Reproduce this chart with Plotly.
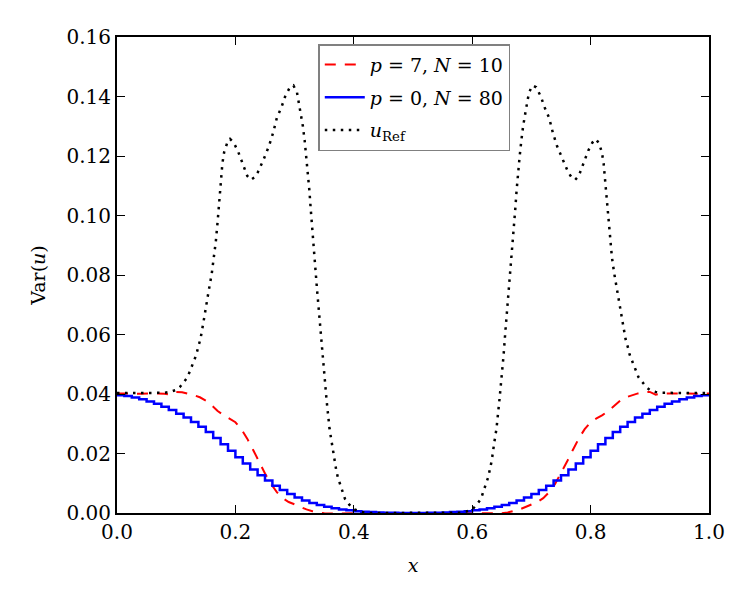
import numpy as np
import plotly.graph_objects as go

# ---- data ----
red_x = [0.00, 0.02, 0.04, 0.06, 0.08, 0.09, 0.10, 0.11, 0.12, 0.13, 0.14, 0.15, 0.16, 0.17, 0.18,
         0.19, 0.20, 0.21, 0.22, 0.23, 0.24, 0.25, 0.26, 0.27, 0.28, 0.29, 0.30, 0.31, 0.32, 0.33,
         0.34, 0.35, 0.36, 0.38, 0.40, 0.45, 0.50,
         0.55, 0.60, 0.62, 0.64, 0.65, 0.66, 0.67, 0.68, 0.69, 0.70, 0.71, 0.72, 0.73, 0.74, 0.75,
         0.76, 0.77, 0.78, 0.79, 0.80, 0.81, 0.82, 0.83, 0.84, 0.85, 0.86, 0.87, 0.88, 0.89, 0.90,
         0.91, 0.92, 0.94, 0.96, 0.98, 1.00]
red_y = [0.0402, 0.0401, 0.0401, 0.0402, 0.0401, 0.0398, 0.0407, 0.0406, 0.0402, 0.0396, 0.0389,
         0.0378, 0.0362, 0.0343, 0.0329, 0.0318, 0.0305, 0.0282, 0.0250, 0.0212, 0.0172, 0.0133,
         0.0098, 0.0070, 0.0050, 0.0037, 0.0029, 0.0020, 0.0012, 0.0006, 0.0002, -0.0001, -0.0002,
         -0.0001, 0.0000, 0.0000, 0.0000,
         0.0000, 0.0000, -0.0001, -0.0002, -0.0001, 0.0002, 0.0006, 0.0012, 0.0020, 0.0029, 0.0037,
         0.0050, 0.0070, 0.0098, 0.0133, 0.0172, 0.0212, 0.0250, 0.0282, 0.0305, 0.0318, 0.0329,
         0.0343, 0.0362, 0.0378, 0.0389, 0.0396, 0.0402, 0.0406, 0.0407, 0.0398, 0.0401, 0.0402,
         0.0401, 0.0401, 0.0402]

n_cells = 80
blue_vals = [0.0396, 0.0393, 0.0388, 0.0382, 0.0375, 0.0367, 0.0357, 0.0346, 0.0334, 0.0321,
             0.0306, 0.0290, 0.0272, 0.0252, 0.0231, 0.0209, 0.0187, 0.0166, 0.0146, 0.0127,
             0.0109, 0.0092, 0.0077, 0.0064, 0.0052, 0.0042, 0.0034, 0.0027, 0.0021, 0.0016,
             0.0012, 0.0009, 0.0006, 0.0004, 0.0003, 0.0002, 0.0001, 0.0001, 0.0000, 0.0000,
             0.0000, 0.0000, 0.0001, 0.0001, 0.0002, 0.0003, 0.0004, 0.0006, 0.0009, 0.0012,
             0.0016, 0.0021, 0.0027, 0.0034, 0.0042, 0.0052, 0.0064, 0.0077, 0.0092, 0.0109,
             0.0127, 0.0146, 0.0166, 0.0187, 0.0209, 0.0231, 0.0252, 0.0272, 0.0290, 0.0306,
             0.0321, 0.0334, 0.0346, 0.0357, 0.0367, 0.0375, 0.0382, 0.0388, 0.0393, 0.0396]

ref_x = [0.000, 0.050, 0.080, 0.090, 0.100, 0.106, 0.111, 0.119, 0.124, 0.129, 0.134, 0.137, 0.141,
         0.146, 0.151, 0.155, 0.160, 0.164, 0.167, 0.170, 0.173, 0.176, 0.178, 0.181, 0.186, 0.191,
         0.197, 0.204, 0.209, 0.214, 0.220, 0.226, 0.232, 0.238, 0.247, 0.257, 0.264, 0.270, 0.278,
         0.284, 0.292, 0.298, 0.304, 0.309, 0.314, 0.317, 0.320, 0.323, 0.325, 0.327, 0.329, 0.332,
         0.334, 0.336, 0.338, 0.341, 0.344, 0.347, 0.350, 0.354, 0.359, 0.363, 0.367, 0.370, 0.373,
         0.377, 0.381, 0.385, 0.392, 0.399, 0.410, 0.420, 0.430, 0.500,
         0.570, 0.580, 0.590, 0.601, 0.608, 0.615, 0.619, 0.623, 0.627, 0.630, 0.633, 0.637, 0.641,
         0.646, 0.650, 0.653, 0.656, 0.659, 0.662, 0.664, 0.666, 0.668, 0.671, 0.673, 0.675, 0.677,
         0.680, 0.683, 0.686, 0.691, 0.696, 0.702, 0.708, 0.716, 0.722, 0.730, 0.736, 0.743, 0.753,
         0.762, 0.768, 0.774, 0.780, 0.786, 0.791, 0.796, 0.803, 0.809, 0.814, 0.819, 0.822, 0.824,
         0.827, 0.830, 0.833, 0.836, 0.840, 0.845, 0.849, 0.854, 0.859, 0.863, 0.866, 0.871, 0.876,
         0.881, 0.889, 0.894, 0.900, 0.910, 0.920, 0.950, 1.000]
ref_y = [0.0403, 0.0403, 0.0404, 0.0407, 0.0414, 0.0423, 0.0436, 0.0456, 0.0481, 0.0507, 0.0532,
         0.0557, 0.0585, 0.0641, 0.0694, 0.0748, 0.0804, 0.0860, 0.0914, 0.0980, 0.1060, 0.1129,
         0.1175, 0.1213, 0.1243, 0.1257, 0.1245, 0.1218, 0.1194, 0.1165, 0.1133, 0.1120, 0.1128,
         0.1146, 0.1185, 0.1235, 0.1280, 0.1328, 0.1365, 0.1400, 0.1431, 0.1437, 0.1414, 0.1359,
         0.1300, 0.1252, 0.1196, 0.1140, 0.1084, 0.1028, 0.0972, 0.0916, 0.0860, 0.0804, 0.0748,
         0.0680, 0.0610, 0.0530, 0.0460, 0.0380, 0.0283, 0.0233, 0.0176, 0.0148, 0.0120, 0.0098,
         0.0073, 0.0048, 0.0029, 0.0014, 0.0005, 0.0001, 0.0000, 0.0000,
         0.0000, 0.0001, 0.0005, 0.0014, 0.0029, 0.0048, 0.0073, 0.0098, 0.0120, 0.0148, 0.0176,
         0.0233, 0.0283, 0.0380, 0.0460, 0.0530, 0.0610, 0.0680, 0.0748, 0.0804, 0.0860, 0.0916,
         0.0972, 0.1028, 0.1084, 0.1140, 0.1196, 0.1252, 0.1300, 0.1359, 0.1414, 0.1437, 0.1431,
         0.1400, 0.1365, 0.1328, 0.1280, 0.1235, 0.1185, 0.1146, 0.1128, 0.1120, 0.1133, 0.1165,
         0.1194, 0.1218, 0.1245, 0.1257, 0.1243, 0.1213, 0.1175, 0.1129, 0.1060, 0.0980, 0.0914,
         0.0860, 0.0804, 0.0748, 0.0694, 0.0641, 0.0585, 0.0557, 0.0532, 0.0507, 0.0481, 0.0456,
         0.0436, 0.0423, 0.0414, 0.0407, 0.0404, 0.0403, 0.0403]

x_ticks = [0.0, 0.2, 0.4, 0.6, 0.8, 1.0]
y_ticks = [0.00, 0.02, 0.04, 0.06, 0.08, 0.10, 0.12, 0.14, 0.16]

# staircase built on the cell edges of the N=80 grid
edges = np.linspace(0.0, 1.0, n_cells + 1)
blue_y = blue_vals + [blue_vals[-1]]

FONT = "DejaVu Serif"

fig = go.Figure()
fig.add_trace(go.Scatter(
    x=red_x, y=red_y, mode="lines", name="<i>p</i> = 7, <i>N</i> = 10",
    line=dict(color="#ff0000", width=2, dash="11px,9px"), legendgroup="a"))
fig.add_trace(go.Scatter(
    x=edges, y=blue_y, mode="lines", name="<i>p</i> = 0, <i>N</i> = 80",
    line=dict(color="#0000ff", width=2.5, shape="hv"), legendgroup="b"))
fig.add_trace(go.Scatter(
    x=ref_x, y=ref_y, mode="lines", name="<i>u</i><sub>Ref</sub>",
    line=dict(color="#000000", width=2.5, dash="2.5px,5.5px"), legendgroup="c"))

axis_common = dict(
    showline=True, linecolor="black", linewidth=2, mirror="ticks",
    ticks="inside", ticklen=8, tickwidth=1, tickcolor="black",
    showgrid=False, zeroline=False,
    tickfont=dict(family=FONT, size=20, color="black"),
)

fig.update_xaxes(range=[0, 1], tickvals=x_ticks, tickformat=".1f",
                 title=dict(text="<i>x</i>", font=dict(family=FONT, size=19, color="black"), standoff=16),
                 **axis_common)
fig.update_yaxes(range=[0, 0.16], tickvals=y_ticks, tickformat=".2f",
                 title=dict(text="Var(<i>u</i>)", font=dict(family=FONT, size=19, color="black"), standoff=16),
                 **axis_common)

fig.update_layout(
    width=750, height=600,
    margin=dict(l=117, r=41, t=37, b=87, autoexpand=False),
    plot_bgcolor="white", paper_bgcolor="white",
    font=dict(family=FONT, size=19, color="black"),
    legend=dict(x=0.34, y=0.985, xanchor="left", yanchor="top",
                bgcolor="white", bordercolor="#808080", borderwidth=1.5,
                font=dict(family=FONT, size=19, color="black"),
                tracegroupgap=5, itemwidth=40),
    showlegend=True,
)

fig.write_html("out.html")
